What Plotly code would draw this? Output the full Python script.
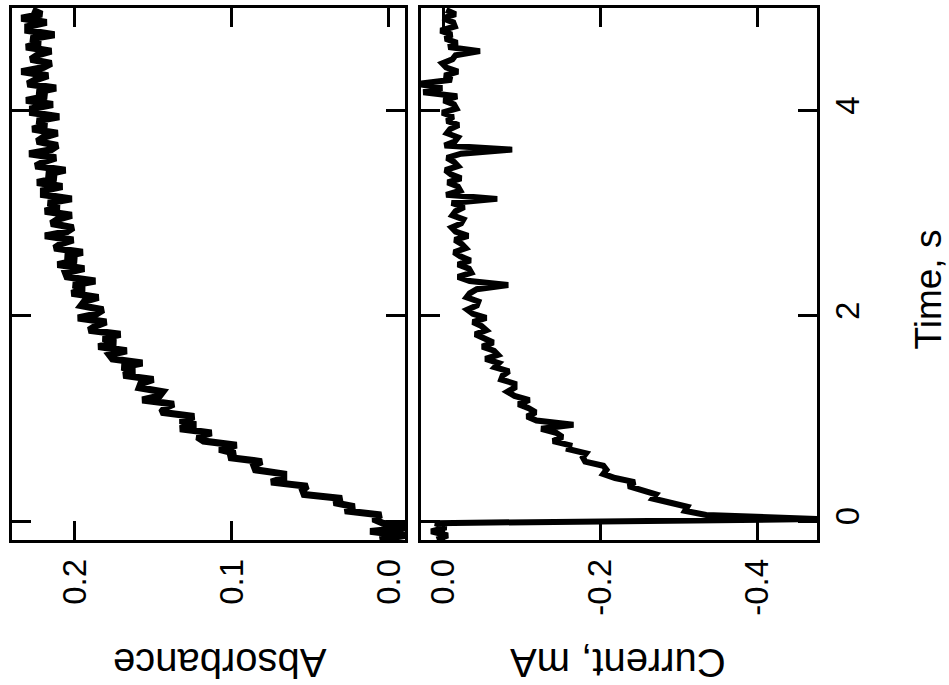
import plotly.graph_objects as go

# Sampling grid of the recorded traces (s)
TIME_START = -0.18
TIME_STEP = 0.04

# Absorbance trace
ABSORBANCE = [
    0.006, -0.010, 0.012, -0.015, 0.004,
    0.010, 0.005, 0.028, 0.022, 0.035, 0.030, 0.054, 0.055, 0.052, 0.075,
    0.067, 0.067, 0.085, 0.086, 0.081, 0.102, 0.098, 0.108, 0.097, 0.118,
    0.122, 0.113, 0.133, 0.123, 0.133, 0.124, 0.145, 0.143, 0.137, 0.157,
    0.146, 0.144, 0.159, 0.158, 0.150, 0.169, 0.162, 0.170, 0.157, 0.176,
    0.178, 0.167, 0.185, 0.174, 0.182, 0.171, 0.191, 0.187, 0.180, 0.198,
    0.186, 0.182, 0.196, 0.194, 0.185, 0.202, 0.194, 0.201, 0.187, 0.205,
    0.206, 0.194, 0.211, 0.199, 0.206, 0.195, 0.213, 0.209, 0.201, 0.219,
    0.205, 0.201, 0.215, 0.211, 0.202, 0.219, 0.210, 0.217, 0.202, 0.220,
    0.220, 0.208, 0.224, 0.212, 0.218, 0.206, 0.225, 0.220, 0.212, 0.229,
    0.215, 0.211, 0.224, 0.220, 0.211, 0.227, 0.218, 0.224, 0.210, 0.227,
    0.227, 0.214, 0.231, 0.218, 0.224, 0.212, 0.230, 0.225, 0.217, 0.234,
    0.220, 0.215, 0.228, 0.224, 0.215, 0.231, 0.222, 0.228, 0.213, 0.230,
    0.230, 0.218, 0.234, 0.221, 0.227,
]

# Current trace, mA
CURRENT = [
    0.008, -0.006, 0.015, -0.004, 0.010, -0.480,
    -0.335, -0.308, -0.311, -0.286, -0.267, -0.271, -0.256, -0.236, -0.244, -0.219,
    -0.204, -0.208, -0.204, -0.181, -0.178, -0.182, -0.160, -0.161, -0.140, -0.152,
    -0.144, -0.125, -0.166, -0.119, -0.107, -0.118, -0.109, -0.096, -0.110, -0.091,
    -0.082, -0.091, -0.091, -0.074, -0.076, -0.084, -0.066, -0.071, -0.054, -0.070,
    -0.065, -0.050, -0.064, -0.050, -0.041, -0.055, -0.049, -0.038, -0.055, -0.038,
    -0.031, -0.043, -0.045, -0.030, -0.034, -0.043, -0.083, -0.034, -0.019, -0.036,
    -0.033, -0.019, -0.035, -0.022, -0.014, -0.029, -0.024, -0.015, -0.032, -0.016,
    -0.011, -0.023, -0.026, -0.012, -0.016, -0.027, -0.011, -0.069, -0.004, -0.022,
    -0.019, -0.006, -0.023, -0.010, -0.003, -0.019, -0.014, -0.005, -0.023, -0.088,
    -0.002, -0.015, -0.019, -0.005, -0.009, -0.020, -0.005, -0.013, 0.001, -0.017,
    -0.014, -0.001, -0.018, 0.025, 0.001, 0.033, -0.011, -0.002, -0.019, -0.004,
    0.001, -0.012, -0.016, -0.047, -0.007, -0.018, -0.003, -0.011, 0.003, -0.015,
    -0.013, 0.000, -0.016, -0.004,
]

TIME = [TIME_START + i * TIME_STEP for i in range(len(ABSORBANCE))]

ABS_TICKS = [0.0, 0.1, 0.2]
ABS_LABELS = ["0.0", "0.1", "0.2"]
CUR_TICKS = [0.0, -0.2, -0.4]
CUR_LABELS = ["0.0", "-0.2", "-0.4"]
TIME_TICKS = [0, 2, 4]
TIME_LABELS = ["0", "2", "4"]

FONT = "Liberation Sans, Arial, Helvetica, sans-serif"
TICKFONT = dict(family=FONT, size=33, color="black")

fig = go.Figure()
fig.add_trace(go.Scatter(x=ABSORBANCE, y=TIME, mode="lines",
                         line=dict(color="black", width=7),
                         xaxis="x", yaxis="y", hoverinfo="skip"))
fig.add_trace(go.Scatter(x=CURRENT, y=TIME[:len(CURRENT)], mode="lines",
                         line=dict(color="black", width=6),
                         xaxis="x2", yaxis="y2", hoverinfo="skip"))

common_x = dict(showline=True, linewidth=2.5, linecolor="black", mirror="ticks",
                ticks="inside", ticklen=19, tickwidth=2.5, tickcolor="black",
                showgrid=False, zeroline=False, tickangle=-90, tickfont=TICKFONT,
                ticklabelstandoff=3)
common_y = dict(showline=True, linewidth=2.5, linecolor="black", mirror="ticks",
                ticks="inside", ticklen=19, tickwidth=2.5, tickcolor="black",
                showgrid=False, zeroline=False, range=[-0.184, 5.0],
                tickvals=TIME_TICKS, ticktext=TIME_LABELS)

fig.update_layout(
    width=949, height=685,
    margin=dict(l=12, r=132, t=5, b=145),
    paper_bgcolor="white", plot_bgcolor="white",
    showlegend=False,
    xaxis=dict(domain=[0, 0.4882], range=[0.240, -0.0102], anchor="y",
               tickvals=ABS_TICKS, ticktext=ABS_LABELS, **common_x),
    xaxis2=dict(domain=[0.5081, 1.0], range=[0.028, -0.476], anchor="y2",
                tickvals=CUR_TICKS, ticktext=CUR_LABELS, **common_x),
    yaxis=dict(anchor="x", showticklabels=False, **common_y),
    yaxis2=dict(anchor="x2", side="right", showticklabels=True, tickangle=-90,
                tickfont=TICKFONT, ticklabelstandoff=0, **common_y),
    annotations=[
        dict(text="Absorbance", xref="paper", yref="paper", x=0.258, y=-0.23,
             textangle=180, showarrow=False, xanchor="center", yanchor="middle",
             font=dict(family=FONT, size=40, color="black")),
        dict(text="Current, mA", xref="paper", yref="paper", x=0.752, y=-0.23,
             textangle=180, showarrow=False, xanchor="center", yanchor="middle",
             font=dict(family=FONT, size=40, color="black")),
        dict(text="Time, s", xref="paper", yref="paper", x=1.138, y=0.471,
             textangle=-90, showarrow=False, xanchor="center", yanchor="middle",
             font=dict(family=FONT, size=37, color="black")),
    ],
)

fig.write_html("out.html")
